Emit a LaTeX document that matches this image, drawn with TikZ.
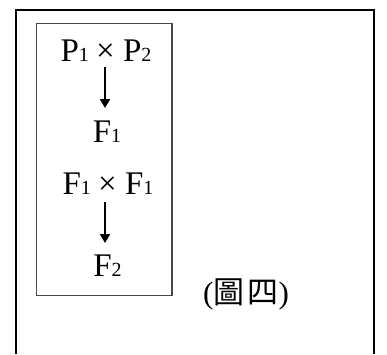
\documentclass[tikz,border=0pt]{standalone}
\usepackage{fontspec}
\setmainfont{Liberation Serif}
\newfontfamily\cjk{Noto Sans CJK TC}
\usetikzlibrary{arrows.meta}
\newcommand{\subd}[1]{{\fontsize{20}{20}\selectfont #1}}
\tikzset{
  x=1pt, y=1pt,
  lbl/.style={inner sep=0pt, anchor=base, font=\fontsize{33}{38}\selectfont},
  figlabel/.style={inner sep=0pt, anchor=base west, font=\fontsize{31}{36}\selectfont},
  flow/.style={line width=2pt, -{Triangle[width=10pt,length=9pt]}},
  outerframe/.style={line width=2pt, black},
  box/.style={line width=1.4pt, draw=black!72}
}
\begin{document}
\begin{tikzpicture}
\useasboundingbox (0,0) rectangle (387,-354);
\draw[outerframe] (15.7,-354) -- (15.7,-10) -- (374,-10) -- (374,-354);
\draw[box] (36.7,-23.7) rectangle (172,-295.3);
\node[lbl] (p) at (106,-61) {P\subd{1}\hspace{-1pt} × P\subd{2}};
\node[lbl] (f1) at (107,-142.5) {F\subd{1}};
\node[lbl] (ff) at (108,-194) {F\subd{1}\hspace{-1pt} × F\subd{1}};
\node[lbl] (f2) at (107.5,-276.5) {F\subd{2}};
\node[figlabel] (c) at (203,-303) {({\cjk 圖}\hspace{3pt}{\cjk 四})};
\path ([xshift=-1pt,yshift=-6pt]p.base) coordinate (a1s);
\path ([xshift=-2pt,yshift=34.5pt]f1.base) coordinate (a1e);
\path ([xshift=-3pt,yshift=-8pt]ff.base) coordinate (a2s);
\path ([xshift=-2.5pt,yshift=33.5pt]f2.base) coordinate (a2e);
\draw[flow] (a1s) -- (a1e);
\draw[flow] (a2s) -- (a2e);
\end{tikzpicture}
\end{document}
